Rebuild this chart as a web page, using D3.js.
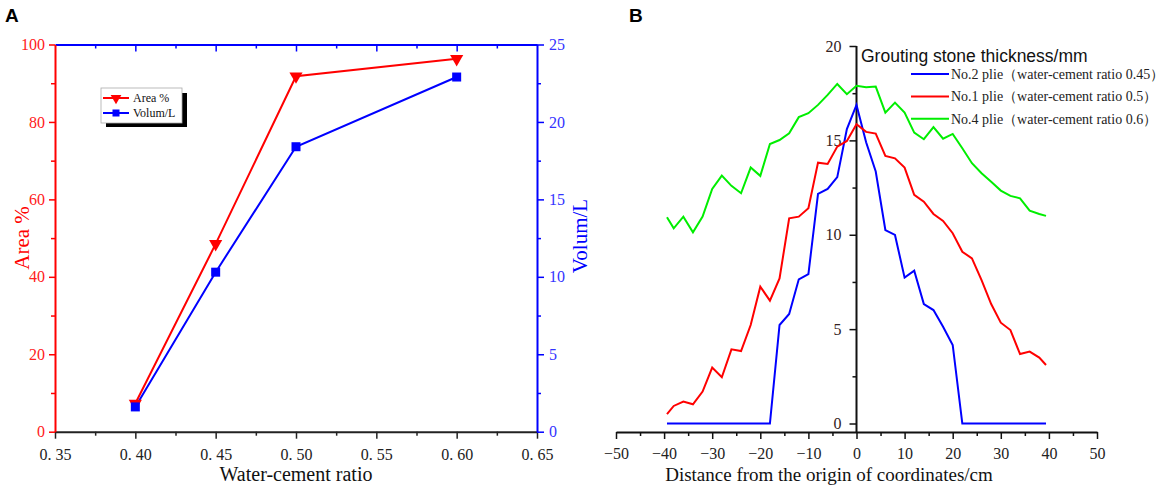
<!DOCTYPE html>
<html>
<head>
<meta charset="utf-8">
<script src="https://cdn.jsdelivr.net/npm/d3@7"></script>
<style>
  body { margin: 0; background: #fff; }
  svg { font-family: "Liberation Serif", "Times New Roman", serif; }
</style>
</head>
<body>
<div id="chart-area"></div>
<script>
// panel A data
let ratios = [0.40, 0.45, 0.50, 0.60];
let areaPct = [7.3, 48.5, 91.8, 96.3];
let volumeL = [1.6, 10.3, 18.4, 22.9];
let ratioTicks = [0.35, 0.40, 0.45, 0.50, 0.55, 0.60, 0.65];
let areaTicks = [0, 20, 40, 60, 80, 100];
let volumeTicks = [0, 5, 10, 15, 20, 25];

// panel B data
let distances = [-39.4, -38, -36, -34, -32, -30, -28, -26, -24, -22, -20, -18, -16, -14, -12, -10, -8, -6, -4, -2,
  0, 2, 4, 6, 8, 10, 12, 14, 16, 18, 20, 22, 24, 26, 28, 30, 32, 34, 36, 38, 39.4];
let plie2 = [0, 0, 0, 0, 0, 0, 0, 0, 0, 0, 0, 0, 5.22, 5.80, 7.64, 7.92, 12.16, 12.43, 13.05, 15.6,
  16.88, 14.9, 13.35, 10.25, 9.99, 7.73, 8.10, 6.33, 6.01, 5.13, 4.16, 0, 0, 0, 0, 0, 0, 0, 0, 0, 0];
let plie1 = [0.50, 0.93, 1.16, 1.02, 1.69, 2.96, 2.45, 3.93, 3.84, 5.22, 7.25, 6.51, 7.69, 10.87, 10.96, 11.40, 13.82, 13.75, 14.67, 14.97,
  15.86, 15.45, 15.36, 14.18, 14.05, 13.56, 12.11, 11.75, 11.10, 10.73, 10.08, 9.10, 8.75, 7.6, 6.33, 5.34, 4.95, 3.68, 3.81, 3.49, 3.10];
let plie4 = [10.93, 10.34, 10.96, 10.13, 10.96, 12.43, 13.13, 12.59, 12.20, 13.56, 13.12, 14.81, 15.02, 15.38, 16.23, 16.44, 16.88, 17.41, 17.99, 17.45,
  17.89, 17.81, 17.85, 16.47, 17.0, 16.47, 15.41, 15.06, 15.70, 15.09, 15.34, 14.58, 13.79, 13.26, 12.81, 12.34, 12.06, 11.93, 11.28, 11.10, 11.00];
let distTicks = [-50, -40, -30, -20, -10, 0, 10, 20, 30, 40, 50];
let thickTicks = [0, 5, 10, 15, 20];

let seriesB = [
  {name: "No.2 plie（water-cement ratio 0.45）", values: plie2, color: "#0000ff"},
  {name: "No.1 plie（water-cement ratio 0.5）", values: plie1, color: "#ff0000"},
  {name: "No.4 plie（water-cement ratio 0.6）", values: plie4, color: "#00ee00"}
];

let svg = d3.select("#chart-area")
  .append("svg")
  .attr("width", 1170)
  .attr("height", 486);

function styleAxis(g, color) {
  g.select(".domain").attr("stroke", color).attr("stroke-width", 2);
  g.selectAll(".tick line").attr("stroke", color).attr("stroke-width", 1.5);
  g.selectAll(".tick text")
    .style("font-family", "Liberation Serif")
    .style("font-size", "16px");
}

// ---------------- panel A ----------------
let xA = d3.scaleLinear().domain([0.35, 0.65]).range([55, 537]);
let yArea = d3.scaleLinear().domain([0, 100]).range([431.7, 44.5]);
let yVol = d3.scaleLinear().domain([0, 25]).range([431.7, 44.5]);

let minorRatio = [0.375, 0.425, 0.475, 0.525, 0.575, 0.625];

// bottom axis
let bottomA = svg.append("g")
  .attr("transform", "translate(0," + yArea(0) + ")")
  .call(d3.axisBottom(xA).tickValues(ratioTicks).tickSize(7).tickSizeOuter(0)
    .tickFormat(d => d.toFixed(2).replace(".", ". ")));
styleAxis(bottomA, "#222");
bottomA.selectAll(".tick text").attr("fill", "#222").attr("dy", "1.15em");
svg.append("g")
  .attr("transform", "translate(0," + yArea(0) + ")")
  .call(d3.axisBottom(xA).tickValues(minorRatio).tickSize(4).tickFormat(""))
  .call(g => { g.select(".domain").remove(); g.selectAll("line").attr("stroke", "#222").attr("stroke-width", 1.5); });

// top axis
let topA = svg.append("g")
  .attr("transform", "translate(0," + yArea(100) + ")")
  .call(d3.axisBottom(xA).tickValues(ratioTicks.slice(1, -1)).tickSize(7).tickSizeOuter(0).tickFormat(""));
styleAxis(topA, "#0000ff");
svg.append("g")
  .attr("transform", "translate(0," + yArea(100) + ")")
  .call(d3.axisBottom(xA).tickValues(minorRatio).tickSize(4).tickFormat(""))
  .call(g => { g.select(".domain").remove(); g.selectAll("line").attr("stroke", "#0000ff").attr("stroke-width", 1.5); });

// left axis
let leftA = svg.append("g")
  .attr("transform", "translate(" + xA(0.35) + ",0)")
  .call(d3.axisLeft(yArea).tickValues(areaTicks).tickSize(6).tickSizeOuter(0));
styleAxis(leftA, "#ff0000");
leftA.selectAll(".tick text").attr("fill", "#ff2020").attr("x", -10);
svg.append("g")
  .attr("transform", "translate(" + xA(0.35) + ",0)")
  .call(d3.axisLeft(yArea).tickValues([10, 30, 50, 70, 90]).tickSize(4).tickFormat(""))
  .call(g => { g.select(".domain").remove(); g.selectAll("line").attr("stroke", "#ff0000").attr("stroke-width", 1.5); });

// right axis
let rightA = svg.append("g")
  .attr("transform", "translate(" + xA(0.65) + ",0)")
  .call(d3.axisRight(yVol).tickValues(volumeTicks).tickSize(7).tickSizeOuter(0));
styleAxis(rightA, "#0000ff");
rightA.selectAll(".tick text").attr("fill", "#3333ff").attr("x", 12);
svg.append("g")
  .attr("transform", "translate(" + xA(0.65) + ",0)")
  .call(d3.axisRight(yVol).tickValues([2.5, 7.5, 12.5, 17.5, 22.5]).tickSize(4).tickFormat(""))
  .call(g => { g.select(".domain").remove(); g.selectAll("line").attr("stroke", "#0000ff").attr("stroke-width", 1.5); });

// axis titles
svg.append("text")
  .attr("x", xA(0.50))
  .attr("y", 481)
  .style("font-size", "20px")
  .attr("text-anchor", "middle")
  .attr("fill", "#111")
  .text("Water-cement ratio");

svg.append("text")
  .attr("transform", "translate(29,238) rotate(-90)")
  .style("font-size", "21px")
  .attr("text-anchor", "middle")
  .attr("fill", "#ff0000")
  .text("Area %");

svg.append("text")
  .attr("transform", "translate(587,236) rotate(-90)")
  .style("font-size", "21px")
  .attr("text-anchor", "middle")
  .attr("fill", "#0000ff")
  .text("Volum/L");

// lines + markers
let areaLine = d3.line().x((d, i) => xA(ratios[i])).y(d => yArea(d));
let volLine = d3.line().x((d, i) => xA(ratios[i])).y(d => yVol(d));

svg.append("path").datum(areaPct)
  .attr("d", areaLine).attr("fill", "none").attr("stroke", "#ff0000").attr("stroke-width", 2);
svg.append("path").datum(volumeL)
  .attr("d", volLine).attr("fill", "none").attr("stroke", "#0000ff").attr("stroke-width", 2);

let tri = d3.symbol().type(d3.symbolTriangle).size(75);
svg.selectAll(".tri").data(areaPct).enter().append("path")
  .attr("class", "tri")
  .attr("d", tri)
  .attr("transform", (d, i) => "translate(" + xA(ratios[i]) + "," + yArea(d) + ") rotate(180)")
  .attr("fill", "#ff0000");

svg.selectAll(".sq").data(volumeL).enter().append("rect")
  .attr("class", "sq")
  .attr("x", (d, i) => xA(ratios[i]) - 4.5)
  .attr("y", d => yVol(d) - 4.5)
  .attr("width", 9)
  .attr("height", 9)
  .attr("fill", "#0000ff");

// legend A
let legA = svg.append("g").attr("transform", "translate(101,88)");
legA.append("rect").attr("x", 5).attr("y", 5).attr("width", 81).attr("height", 34).attr("fill", "#000");
legA.append("rect").attr("x", 0).attr("y", 0).attr("width", 81).attr("height", 35)
  .attr("fill", "#fff").attr("stroke", "#aaa").attr("stroke-width", 0.8);
legA.append("line").attr("x1", 2).attr("x2", 28).attr("y1", 10).attr("y2", 10)
  .attr("stroke", "#ff0000").attr("stroke-width", 2);
legA.append("path").attr("d", d3.symbol().type(d3.symbolTriangle).size(50))
  .attr("transform", "translate(15,10) rotate(180)").attr("fill", "#ff0000");
legA.append("line").attr("x1", 2).attr("x2", 28).attr("y1", 25).attr("y2", 25)
  .attr("stroke", "#0000ff").attr("stroke-width", 2);
legA.append("rect").attr("x", 11.5).attr("y", 21.5).attr("width", 7).attr("height", 7).attr("fill", "#0000ff");
legA.append("text").attr("x", 32).attr("y", 14).style("font-size", "12px").attr("fill", "#111").text("Area %");
legA.append("text").attr("x", 32).attr("y", 29).style("font-size", "12px").attr("fill", "#111").text("Volum/L");

// ---------------- panel B ----------------
let xB = d3.scaleLinear().domain([-50, 50]).range([616, 1097]);
let yB = d3.scaleLinear().domain([-0.45, 20]).range([432, 46]);

let bottomB = svg.append("g")
  .attr("transform", "translate(0," + yB(-0.45) + ")")
  .call(d3.axisBottom(xB).tickValues(distTicks).tickSize(7).tickSizeOuter(0));
styleAxis(bottomB, "#111");
bottomB.selectAll(".tick text").attr("fill", "#222").attr("dy", "1.05em");
svg.append("g")
  .attr("transform", "translate(0," + yB(-0.45) + ")")
  .call(d3.axisBottom(xB).tickValues([-45, -35, -25, -15, -5, 5, 15, 25, 35, 45]).tickSize(4).tickFormat(""))
  .call(g => { g.select(".domain").remove(); g.selectAll("line").attr("stroke", "#111").attr("stroke-width", 1.5); });

let leftB = svg.append("g")
  .attr("transform", "translate(" + xB(0) + ",0)")
  .call(d3.axisLeft(yB).tickValues(thickTicks).tickSize(7).tickSizeOuter(0));
styleAxis(leftB, "#111");
leftB.select(".domain").attr("d", "M0," + yB(20) + "V" + yB(-0.45));
leftB.selectAll(".tick text").attr("fill", "#332222").attr("x", -15);
svg.append("g")
  .attr("transform", "translate(" + xB(0) + ",0)")
  .call(d3.axisLeft(yB).tickValues([2.5, 7.5, 12.5, 17.5]).tickSize(4).tickFormat(""))
  .call(g => { g.select(".domain").remove(); g.selectAll("line").attr("stroke", "#111").attr("stroke-width", 1.5); });

let lineB = d3.line().x((d, i) => xB(distances[i])).y(d => yB(d));
seriesB.forEach(s => {
  svg.append("path").datum(s.values)
    .attr("d", lineB)
    .attr("fill", "none")
    .attr("stroke", s.color)
    .attr("stroke-width", 2);
});

svg.append("text")
  .attr("x", 829)
  .attr("y", 481)
  .style("font-size", "19px")
  .attr("text-anchor", "middle")
  .attr("fill", "#111")
  .text("Distance from the origin of coordinates/cm");

// legend B
svg.append("text")
  .attr("x", 861)
  .attr("y", 62)
  .style("font-family", "Liberation Sans")
  .style("font-size", "17.5px")
  .attr("fill", "#111")
  .text("Grouting stone thickness/mm");

let legB = svg.append("g").attr("transform", "translate(911,74)");
seriesB.forEach((s, i) => {
  legB.append("line")
    .attr("x1", 0).attr("x2", 38)
    .attr("y1", i * 22.4).attr("y2", i * 22.4)
    .attr("stroke", s.color).attr("stroke-width", 2);
  legB.append("text")
    .attr("x", 40)
    .attr("y", i * 22.4 + 5)
    .style("font-size", "14px")
    .attr("fill", "#222")
    .text(s.name);
});

// panel letters
svg.append("text").attr("x", 5).attr("y", 22)
  .style("font-family", "Liberation Sans").style("font-weight", "bold").style("font-size", "19px")
  .text("A");
svg.append("text").attr("x", 629).attr("y", 22)
  .style("font-family", "Liberation Sans").style("font-weight", "bold").style("font-size", "19px")
  .text("B");
</script>
</body>
</html>
